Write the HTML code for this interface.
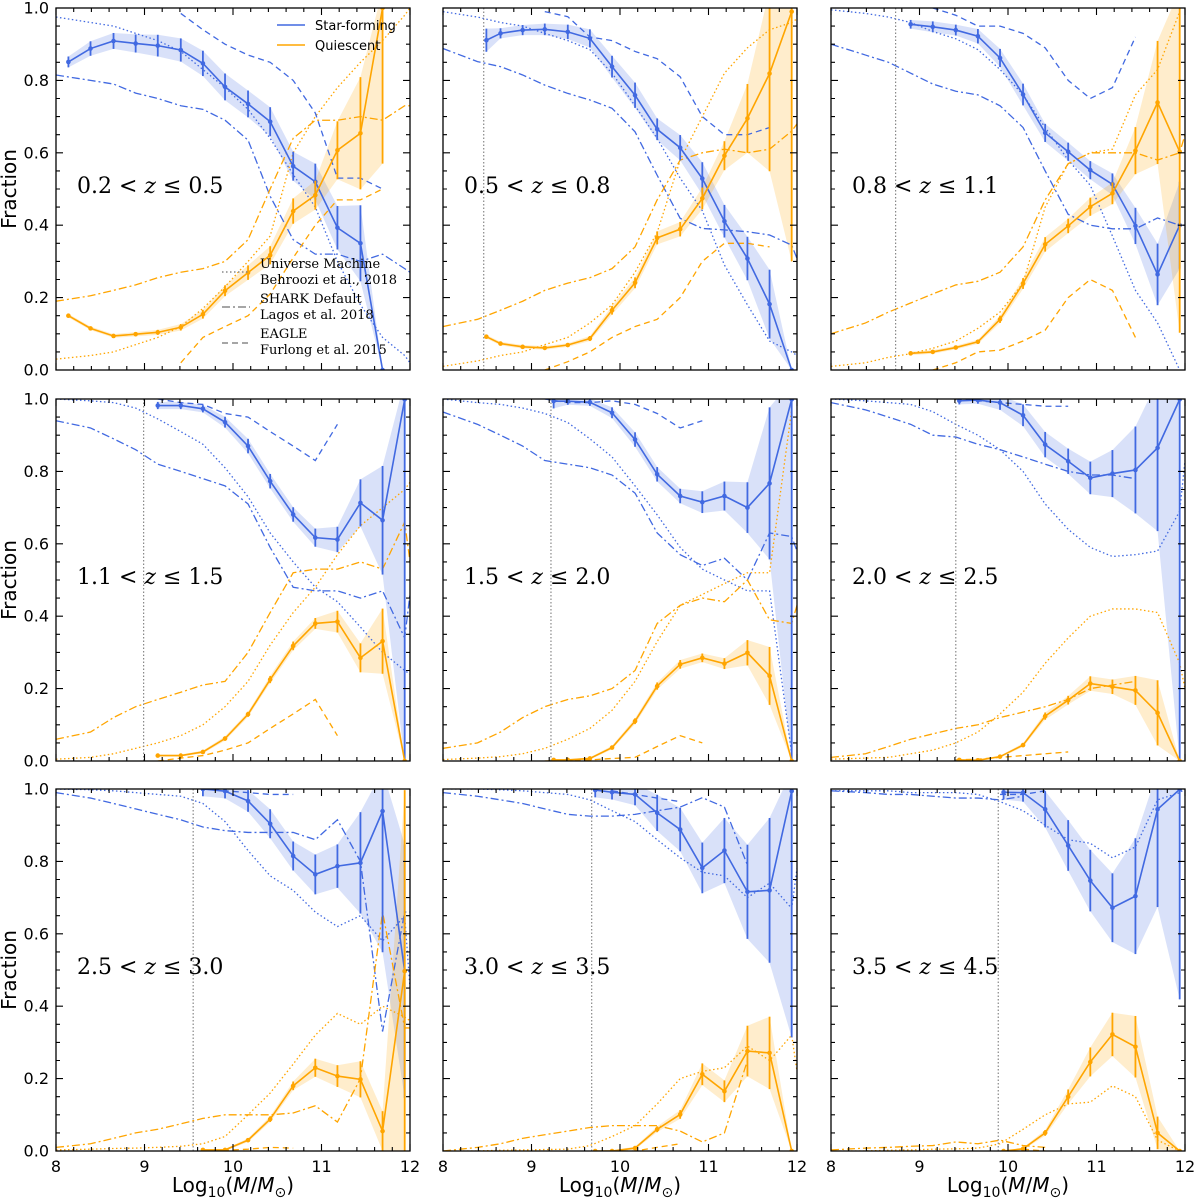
<!DOCTYPE html>
<html><head><meta charset="utf-8"><style>
html,body{margin:0;padding:0;background:#fff;}
svg{display:block;}
</style></head><body>
<svg id="fig" xmlns="http://www.w3.org/2000/svg" width="1200" height="1199" viewBox="0 0 1200 1199">
<rect x="0" y="0" width="1200" height="1199" fill="#fff"/>
</svg>
<script>
// ---- mass grids ----
const G=[8.14,8.39,8.65,8.90,9.15,9.41,9.66,9.91,10.17,10.42,10.68,10.93,11.18,11.44,11.69,11.94];
const MX=[8.0,8.39,8.65,8.90,9.15,9.41,9.66,9.91,10.17,10.42,10.68,10.93,11.18,11.44,11.69,11.94,12.0];
const zLabels=["0.2","0.5","0.5","0.8","0.8","1.1","1.1","1.5","1.5","2.0","2.0","2.5","2.5","3.0","3.0","3.5","3.5","4.5"];
const massLimits=[null,8.46,8.73,8.99,9.22,9.41,9.55,9.68,9.89];
const xTicks=[8,9,10,11,12];
const yTicks=[0.0,0.2,0.4,0.6,0.8,1.0];
const n=null;
// ---- panel 1 ----
const p1x=[8.14,8.39,8.65,8.90,9.15,9.41,9.66,9.91,10.17,10.42,10.68,10.93,11.18,11.44,11.69];
const p1sf=[.851,.888,.909,.902,.896,.884,.847,.782,.735,.686,.563,.520,.393,.350,0.0];
const p1sfE=[.015,.02,.022,.025,.03,.032,.035,.037,.037,.04,.04,.05,.06,.105,0];
const p1q=[.150,.115,.094,.099,.104,.118,.154,.219,.269,.317,.439,.483,.607,.654,1.0];
const p1qE=[.005,.005,.005,.006,.007,.009,.012,.015,.02,.025,.035,.04,.08,.155,.43];
const p1umSF=[.975,.96,.95,.93,.91,.88,.83,.78,.72,.64,.54,.45,.30,.18,.09,.04,.02];
const p1umQ=[.03,.04,.05,.07,.09,.12,.17,.23,.30,.37,.60,.70,.78,.85,.91,.98,1.0];
const p1shSF=[.815,.80,.79,.765,.75,.73,.72,.69,.635,.48,.36,.32,.32,.30,.32,.28,.27];
const p1shQ=[.19,.205,.22,.235,.255,.27,.28,.30,.36,.50,.64,.69,.69,.70,.69,.73,.73];
const p1eaSF=[n,n,n,n,n,.985,.94,.90,.87,.85,.80,.71,.53,.53,.50,n,n];
const p1eaQ=[n,n,n,n,n,.02,.09,.12,.15,.21,.31,.40,.47,.47,.50,n,n];
// ---- panel 2 ----
const p2x=[8.49,8.65,8.90,9.15,9.41,9.66,9.91,10.17,10.42,10.68,10.93,11.18,11.44,11.69,11.94];
const p2sf=[.911,.930,.939,.941,.934,.916,.838,.759,.665,.614,.529,.411,.308,.182,0.0];
const p2sfE=[.032,.014,.014,.016,.02,.025,.03,.035,.03,.035,.045,.045,.06,.095,0];
const p2q=[.092,.073,.064,.061,.069,.087,.165,.241,.365,.389,.474,.592,.695,.819,.99];
const p2qE=[.005,.005,.005,.005,.005,.007,.012,.015,.018,.02,.03,.04,.095,.27,.69];
const p2umSF=[.99,.975,.96,.95,.93,.91,.885,.82,.73,.64,.53,.44,.29,.18,.08,.05,.04];
const p2umQ=[.01,.025,.04,.05,.07,.09,.13,.18,.27,.38,.58,.70,.82,.89,.94,.96,.97];
const p2shSF=[.888,.852,.838,.815,.787,.764,.746,.723,.658,.538,.419,.391,.387,.382,.373,.345,.308];
const p2shQ=[.12,.14,.165,.19,.22,.24,.255,.28,.34,.47,.58,.60,.61,.60,.61,.66,.68];
const p2eaSF=[n,n,n,n,.99,.976,.92,.91,.88,.86,.81,.70,.65,.65,.67,n,n];
const p2eaQ=[n,n,n,n,0,.023,.05,.09,.12,.14,.20,.30,.35,.35,.34,n,n];
// ---- panel 3 ----
const p3x=[8.90,9.15,9.41,9.66,9.91,10.17,10.42,10.68,10.93,11.18,11.44,11.69,11.94];
const p3sf=[.955,.948,.939,.922,.862,.761,.655,.603,.552,.513,.398,.264,.400];
const p3sfE=[.012,.015,.015,.02,.025,.03,.025,.025,.025,.03,.05,.085,.12];
const p3q=[.046,.050,.062,.078,.140,.239,.347,.398,.451,.488,.606,.739,.603];
const p3qE=[.005,.005,.005,.006,.01,.015,.02,.02,.025,.03,.065,.17,.5];
const p3umSF=[.995,.985,.975,.96,.935,.915,.885,.83,.76,.67,.58,.51,.37,.22,.13,0,n];
const p3umQ=[.01,.02,.035,.045,.06,.08,.115,.16,.24,.45,.57,.60,.61,.76,.83,.99,n];
const p3shSF=[.90,.87,.85,.82,.79,.77,.76,.73,.67,.55,.43,.40,.39,.39,.42,.40,.40];
const p3shQ=[.10,.13,.16,.185,.21,.235,.245,.27,.34,.47,.57,.60,.60,.60,.58,.60,.65];
const p3eaSF=[n,n,n,n,1.0,.98,.95,.95,.93,.89,.80,.75,.78,.92,n,n,n];
const p3eaQ=[n,n,n,n,0,.02,.05,.055,.08,.11,.20,.25,.22,.09,n,n,n];
// ---- panel 4 ----
const p4x=[9.15,9.41,9.66,9.91,10.17,10.42,10.68,10.93,11.18,11.44,11.69,11.94];
const p4sf=[.982,.982,.973,.936,.87,.773,.681,.617,.612,.713,.665,.999];
const p4sfE=[.01,.01,.01,.015,.02,.02,.02,.025,.035,.065,.15,1.0];
const p4q=[.015,.015,.025,.062,.129,.225,.318,.38,.385,.285,.331,0];
const p4qE=[.003,.003,.004,.006,.007,.01,.012,.015,.03,.04,.09,0];
const p4umSF=[1.0,.995,.99,.975,.945,.91,.875,.81,.73,.63,.55,.48,.44,.37,.30,.25,.24];
const p4umQ=[.005,.01,.02,.035,.05,.07,.10,.15,.22,.32,.41,.48,.57,.65,.70,.75,.77];
const p4shSF=[.94,.92,.89,.86,.82,.80,.78,.76,.71,.59,.48,.47,.47,.45,.47,.34,.46];
const p4shQ=[.06,.08,.12,.15,.17,.19,.21,.22,.30,.41,.52,.53,.53,.55,.53,.66,.55];
const p4eaSF=[n,n,n,n,1.0,.99,.985,.96,.95,.91,.87,.83,.93,n,n,n,n];
const p4eaQ=[n,n,n,n,0,.008,.015,.03,.05,.09,.13,.17,.07,n,n,n,n];
// ---- panel 5 ----
const p5x=[9.25,9.41,9.66,9.91,10.17,10.42,10.68,10.93,11.18,11.44,11.69,11.94];
const p5sf=[.994,.994,.991,.962,.888,.792,.732,.715,.732,.70,.767,.999];
const p5sfE=[.02,.01,.01,.015,.02,.02,.02,.03,.04,.07,.21,1.0];
const p5q=[.003,.003,.007,.037,.11,.207,.267,.285,.269,.299,.235,0];
const p5qE=[.002,.002,.003,.005,.008,.01,.012,.012,.015,.035,.08,0];
const p5umSF=[1.0,.99,.985,.975,.96,.935,.89,.84,.76,.68,.59,.53,.50,.47,.47,.02,n];
const p5umQ=[.004,.008,.012,.02,.035,.06,.09,.14,.22,.33,.43,.46,.49,.52,.52,.97,n];
const p5shSF=[.964,.93,.90,.87,.83,.82,.81,.79,.74,.63,.57,.54,.56,.50,.63,.62,.58];
const p5shQ=[.035,.05,.08,.12,.15,.17,.18,.20,.25,.38,.43,.45,.44,.50,.39,.38,.43];
const p5eaSF=[n,n,n,n,1.0,.99,.99,.995,.985,.96,.92,.94,n,n,n,n,n];
const p5eaQ=[n,n,n,n,0,.003,.003,.007,.01,.04,.07,.05,n,n,n,n,n];
// ---- panel 6 ----
const p6x=[9.45,9.66,9.91,10.17,10.42,10.68,10.93,11.18,11.44,11.69,11.94];
const p6sf=[.995,.997,.99,.955,.874,.828,.782,.794,.804,.865,.999];
const p6sfE=[.01,.01,.02,.03,.035,.035,.045,.065,.12,.23,1.0];
const p6q=[.003,.002,.012,.044,.124,.168,.214,.205,.195,.133,0];
const p6qE=[.002,.002,.003,.005,.01,.012,.02,.02,.04,.09,0];
const p6umSF=[1.0,.995,.99,.985,.965,.93,.90,.86,.80,.71,.64,.59,.565,.57,.58,.69,.83];
const p6umQ=[.005,.008,.01,.02,.03,.05,.08,.13,.19,.27,.34,.40,.42,.42,.41,.27,.20];
const p6shSF=[.99,.97,.95,.93,.90,.895,.875,.86,.84,.82,.80,.79,.79,.78,n,n,n];
const p6shQ=[.01,.02,.04,.06,.075,.09,.10,.12,.135,.15,.17,.20,.21,.22,n,n,n];
const p6eaSF=[n,n,n,n,n,1.0,.995,.99,.985,.98,.98,n,n,n,n,n,n];
const p6eaQ=[n,n,n,n,n,.003,.005,.01,.015,.02,.025,n,n,n,n,n,n];
// ---- panel 7 ----
const p7x=[9.66,9.91,10.17,10.42,10.68,10.93,11.18,11.44,11.69,11.94];
const p7sf=[1.0,.994,.967,.904,.815,.764,.787,.796,.939,.497];
const p7sfE=[.02,.02,.03,.04,.04,.055,.06,.14,.39,.35];
const p7q=[.003,.003,.03,.088,.18,.23,.207,.198,.055,.497];
const p7qE=[.002,.003,.005,.008,.012,.025,.03,.05,.055,.5];
const p7umSF=[1.0,.998,.995,.99,.985,.98,.96,.91,.83,.76,.72,.66,.62,.65,.58,.65,.45];
const p7umQ=[.003,.005,.007,.008,.01,.013,.02,.04,.10,.16,.24,.32,.38,.35,.40,.37,.36];
const p7shSF=[.99,.975,.96,.945,.93,.915,.895,.885,.88,.88,.88,.86,.915,.80,.33,.66,.66];
const p7shQ=[.01,.02,.035,.05,.06,.075,.09,.10,.10,.10,.105,.125,.08,.20,.66,.34,.34];
const p7eaSF=[n,n,n,n,n,n,1.0,.995,.99,.985,.985,n,n,n,n,n,n];
const p7eaQ=[n,n,n,n,n,n,0,.002,.005,.01,.008,n,n,n,n,n,n];
// ---- panel 8 ----
const p8x=[9.72,9.91,10.17,10.42,10.68,10.93,11.18,11.44,11.69,11.94];
const p8sf=[.997,.991,.985,.934,.888,.782,.830,.716,.720,.994];
const p8sfE=[.02,.02,.03,.05,.06,.07,.09,.13,.2,.68];
const p8q=[0,0,.008,.06,.101,.212,.165,.276,.271,0];
const p8qE=[.001,.002,.004,.008,.012,.03,.03,.07,.1,0];
const p8umSF=[1.0,1.0,.998,.995,.99,.985,.97,.94,.91,.86,.81,.77,.76,.70,.74,.67,.78];
const p8umQ=[0,0,.002,.003,.004,.005,.015,.04,.07,.13,.20,.22,.23,.29,.25,.32,.22];
const p8shSF=[.99,.98,.97,.96,.945,.93,.925,.925,.93,.94,.95,.976,.95,.79,n,n,n];
const p8shQ=[0,.01,.02,.035,.045,.055,.065,.07,.07,.07,.055,.025,.05,.25,n,n,n];
const p8eaSF=[n,n,n,n,n,n,n,.995,.985,.975,.965,n,n,n,n,n,n];
const p8eaQ=[n,n,n,n,n,n,n,0,0,.01,.02,n,n,n,n,n,n];
// ---- panel 9 ----
const p9x=[9.95,10.17,10.42,10.68,10.93,11.18,11.44,11.69,11.94];
const p9sf=[.991,.99,.944,.844,.747,.672,.704,.944,.999];
const p9sfE=[.02,.025,.05,.07,.085,.095,.16,.27,.58];
const p9q=[0,.006,.05,.15,.246,.322,.288,.05,0];
const p9qE=[.001,.003,.008,.02,.04,.06,.085,.045,0];
const p9umSF=[.995,.995,.995,.99,.99,.99,.985,.965,.94,.90,.86,.85,.81,.84,.97,.99,1.0];
const p9umQ=[0,0,.002,.003,.005,.006,.008,.02,.06,.10,.13,.135,.18,.15,.03,0,n];
const p9shSF=[.995,.99,.985,.985,.98,.975,.975,.97,.98,n,n,n,n,n,n,n,n];
const p9shQ=[.003,.008,.01,.013,.015,.025,.02,.03,.015,.01,n,n,n,n,n,n,n];
const p9eaSF=[n,n,n,n,n,n,n,.985,.985,.995,n,n,n,n,n,n,n];
const p9eaQ=[n,n,n,n,n,n,n,n,.005,0,n,n,n,n,n,n,n];

const panels=[
 [p1x,p1sf,p1sfE,p1q,p1qE,p1umSF,p1umQ,p1shSF,p1shQ,p1eaSF,p1eaQ],
 [p2x,p2sf,p2sfE,p2q,p2qE,p2umSF,p2umQ,p2shSF,p2shQ,p2eaSF,p2eaQ],
 [p3x,p3sf,p3sfE,p3q,p3qE,p3umSF,p3umQ,p3shSF,p3shQ,p3eaSF,p3eaQ],
 [p4x,p4sf,p4sfE,p4q,p4qE,p4umSF,p4umQ,p4shSF,p4shQ,p4eaSF,p4eaQ],
 [p5x,p5sf,p5sfE,p5q,p5qE,p5umSF,p5umQ,p5shSF,p5shQ,p5eaSF,p5eaQ],
 [p6x,p6sf,p6sfE,p6q,p6qE,p6umSF,p6umQ,p6shSF,p6shQ,p6eaSF,p6eaQ],
 [p7x,p7sf,p7sfE,p7q,p7qE,p7umSF,p7umQ,p7shSF,p7shQ,p7eaSF,p7eaQ],
 [p8x,p8sf,p8sfE,p8q,p8qE,p8umSF,p8umQ,p8shSF,p8shQ,p8eaSF,p8eaQ],
 [p9x,p9sf,p9sfE,p9q,p9qE,p9umSF,p9umQ,p9shSF,p9shQ,p9eaSF,p9eaQ]
];

const NS="http://www.w3.org/2000/svg";
const svg=document.getElementById('fig');
const BLUE="#4169e1", ORANGE="#ffa500";
const COLX=[56,443,831], ROWY=[8,399,789], PW=354, PH=362;
function mk(tag,attrs,parent){const e=document.createElementNS(NS,tag);for(const k in attrs)e.setAttribute(k,attrs[k]);(parent||svg).appendChild(e);return e;}
const defs=mk('defs',{});

panels.forEach((P,pi)=>{
  const c=pi%3, r=Math.floor(pi/3);
  const x0=COLX[c], yt=ROWY[r], yb=yt+PH;
  const X=v=>x0+(v-8)*PW/4;
  const Y=v=>yb-v*PH;
  const cp=mk('clipPath',{id:'clip'+pi},defs);
  mk('rect',{x:x0,y:yt,width:PW,height:PH},cp);
  const g=mk('g',{'clip-path':'url(#clip'+pi+')'});
  
  
  const [px,sf,sfE,q,qE,umSF,umQ,shSF,shQ,eaSF,eaQ]=P;
  const clamp=v=>Math.max(-0.05,Math.min(1.05,v));
  function band(vals,errs,col,name){
    let up=px.map((x,i)=>X(x)+','+Y(clamp(vals[i]+errs[i])));
    let lo=px.map((x,i)=>X(x)+','+Y(clamp(vals[i]-errs[i]))).reverse();
    const b=mk('polygon',{points:up.concat(lo).join(' '),fill:col,'fill-opacity':0.2,stroke:'none'},g);
    
    
  }
  band(sf,sfE,BLUE,'sf-error-band');
  band(q,qE,ORANGE,'q-error-band');
  function model(vals,col,dash,name){
    let segs=[],cur=[];
    vals.forEach((v,i)=>{ if(v===null){if(cur.length)segs.push(cur);cur=[];} else cur.push(X(MX[i])+','+Y(v)); });
    if(cur.length)segs.push(cur);
    segs.forEach(s=>{
      const l=mk('polyline',{points:s.join(' '),fill:'none',stroke:col,'stroke-width':1.3,'stroke-dasharray':dash},g);
      
      
    });
  }
  model(umSF,BLUE,'1.5,2.5','universe-machine-sf-line');
  model(umQ,ORANGE,'1.5,2.5','universe-machine-q-line');
  model(shSF,BLUE,'8,3,2,3','shark-sf-line');
  model(shQ,ORANGE,'8,3,2,3','shark-q-line');
  model(eaSF,BLUE,'6,4','eagle-sf-line');
  model(eaQ,ORANGE,'6,4','eagle-q-line');
  if(massLimits[pi]!==null){
    const ml=mk('line',{x1:X(massLimits[pi]),x2:X(massLimits[pi]),y1:yt,y2:yb,stroke:'#888','stroke-width':1.2,'stroke-dasharray':'1.5,2'},g);
    
    
  }
  function series(vals,errs,col,name){
    const l=mk('polyline',{points:px.map((x,i)=>X(x)+','+Y(vals[i])).join(' '),fill:'none',stroke:col,'stroke-width':1.6},g);
    
    
    px.forEach((x,i)=>{
      if(errs[i]>0.004){
        const eb=mk('line',{x1:X(x),x2:X(x),y1:Y(clamp(vals[i]-errs[i])),y2:Y(clamp(vals[i]+errs[i])),stroke:col,'stroke-width':1.8},g);
        
        
      }
      const m=mk('circle',{cx:X(x),cy:Y(vals[i]),r:2.3,fill:col},g);
      
      
    });
  }
  series(sf,sfE,BLUE,'star-forming');
  series(q,qE,ORANGE,'quiescent');
  const fr=mk('rect',{x:x0,y:yt,width:PW,height:PH,fill:'none',stroke:'#000','stroke-width':1.3});
  
  
  let td='';
  for(let k=0;k<=20;k++){const v=8+k*0.2;const xx=X(v);const L=(k%5===0)?7:4;td+=`M${xx},${yb}v${-L}M${xx},${yt}v${L}`;}
  for(let k=0;k<=20;k++){const v=k*0.05;const yy=Y(v);const L=(k%4===0)?7:4;td+=`M${x0},${yy}h${L}M${x0+PW},${yy}h${-L}`;}
  const tk=mk('path',{d:td,stroke:'#000','stroke-width':1.1,fill:'none'});
  
  
  const zt=mk('text',{x:x0+21,y:yt+185,'font-family':'"DejaVu Serif","Liberation Serif",serif','font-size':22,fill:'#000'});
  
  
  zt.textContent=zLabels[2*pi]+' < ';
  const zi=mk('tspan',{'font-style':'italic'},zt); zi.textContent='z';
  const zr=mk('tspan',{},zt); zr.textContent=' \u2264 '+zLabels[2*pi+1];
  if(c===0){
    yTicks.forEach(v=>{
      const t=mk('text',{x:x0-7,y:Y(v)+5.5,'text-anchor':'end','font-family':'"DejaVu Sans","Liberation Sans",sans-serif','font-size':16,fill:'#000'});
      
      
      t.textContent=v.toFixed(1);
    });
    const yl=mk('text',{x:0,y:0,transform:`translate(16,${yt+PH/2}) rotate(-90)`,'text-anchor':'middle','font-family':'"DejaVu Sans","Liberation Sans",sans-serif','font-size':20,fill:'#000'});
    
    
    yl.textContent='Fraction';
  }
  if(r===2){
    xTicks.forEach(v=>{
      const t=mk('text',{x:X(v),y:yb+21,'text-anchor':'middle','font-family':'"DejaVu Sans","Liberation Sans",sans-serif','font-size':16,fill:'#000'});
      
      
      t.textContent=String(v);
    });
    const xl=mk('text',{x:x0+PW/2,y:1192,'text-anchor':'middle','font-family':'"DejaVu Sans","Liberation Sans",sans-serif','font-size':20,fill:'#000'});
    
    
    xl.textContent='Log';
    const s1=mk('tspan',{'font-size':14,dy:5},xl); s1.textContent='10';
    const s2=mk('tspan',{dy:-5},xl); s2.textContent='(';
    const s3=mk('tspan',{'font-style':'italic'},xl); s3.textContent='M';
    const s4=mk('tspan',{},xl); s4.textContent='/';
    const s5=mk('tspan',{'font-style':'italic'},xl); s5.textContent='M';
    const s6=mk('tspan',{'font-size':14,dy:5},xl); s6.textContent='\u2299';
    const s7=mk('tspan',{dy:-5},xl); s7.textContent=')';
  }
});

function legLine(x1,x2,y,col,dash,name){
  const l=mk('line',{x1:x1,x2:x2,y1:y,y2:y,stroke:col,'stroke-width':1.6,'stroke-dasharray':dash||'none'});
  
  
}
function legText(x,y,txt,fam,name){
  const t=mk('text',{x:x,y:y,'font-family':fam,'font-size':13,fill:'#000'});
  
  
  t.textContent=txt;
}
const SANS='"DejaVu Sans","Liberation Sans",sans-serif', SERIF='"DejaVu Serif","Liberation Serif",serif';
legLine(277,305,25,BLUE,null,'legend-star-forming-swatch');
legText(315,30,'Star-forming',SANS,'legend-star-forming-label');
legLine(277,305,45,ORANGE,null,'legend-quiescent-swatch');
legText(315,50,'Quiescent',SANS,'legend-quiescent-label');
legLine(222,250,272,'#888','1.5,2.5','legend-universe-machine-swatch');
legText(260,268,'Universe Machine',SERIF,'legend-universe-machine-label');
legText(260,284,'Behroozi et al., 2018',SERIF,'legend-universe-machine-ref');
legLine(222,250,307,'#888','8,3,2,3','legend-shark-swatch');
legText(260,303,'SHARK Default',SERIF,'legend-shark-label');
legText(260,319,'Lagos et al. 2018',SERIF,'legend-shark-ref');
legLine(222,250,343,'#888','6,4','legend-eagle-swatch');
legText(260,338,'EAGLE',SERIF,'legend-eagle-label');
legText(260,354,'Furlong et al. 2015',SERIF,'legend-eagle-ref');
</script>
</body></html>
